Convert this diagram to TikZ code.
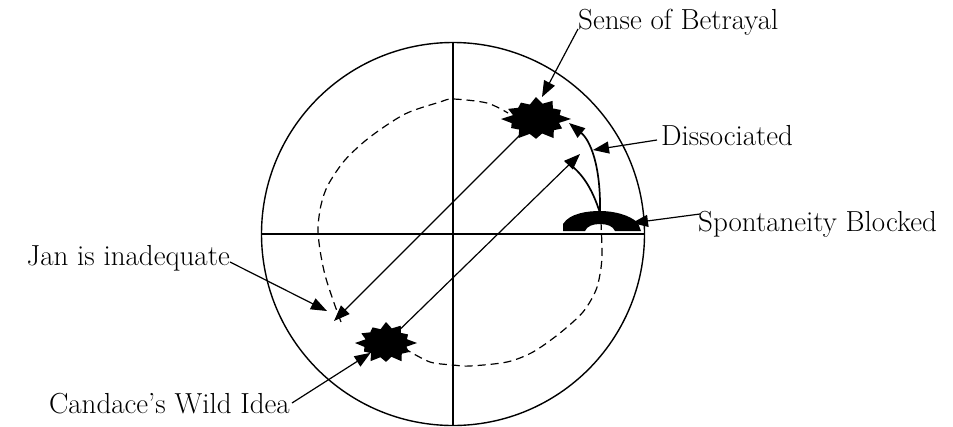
\documentclass[tikz,border=0pt]{standalone}
\usepackage{tikz}
\usetikzlibrary{shapes.geometric,arrows.meta}

% explosion: name, centre, x radius, y radius
\newcommand{\burst}[4]{%
  \node[ellipse,inner sep=0pt,minimum width=1.4*#3,minimum height=1.3*#4] (#1) at #2 {};
  \fill[shift={#2}] (0:#3 and #4)
    \foreach \k/\f in {1/.7,2/.82,3/.68,4/.95,5/.72,6/1.0,7/.68,8/.86,9/.72,10/.92,
      11/.68,12/1.0,13/.72,14/.82,15/.68,16/1.0,17/.7,18/.9,19/.68,20/1.0,21/.72,
      22/.86,23/.68}
    { -- (\k*15:{\f*#3} and {\f*#4}) } -- cycle;
}

\begin{document}
\begin{tikzpicture}[x=1pt,y=-1pt,
    note/.style={inner sep=0pt,font=\fontsize{29}{34}\selectfont},
    pointer/.style={line width=1.2pt,-{Triangle[length=16pt,width=12pt]}},
    track/.style={line width=1.2pt,dash pattern=on 8pt off 5pt}]
  \useasboundingbox (0,0) rectangle (953,426);
  % Circle and axes
  \node[circle,draw,line width=1.4pt,minimum size=383pt,inner sep=0pt] (wheel) at (453,234) {};
  \draw[line width=1.3pt] (wheel.west) -- (wheel.east);
  \draw[line width=1.3pt] (wheel.north) -- (wheel.south);
  % Dashed track
  \draw[track] plot[smooth] coordinates {(341,322) (333,300) (325,275) (320,250)
    (318,228) (321,205) (328,185) (345,160) (370,137) (405,114) (440,102) (453,99)
    (487,103) (508,113)};
  \draw[track] plot[smooth] coordinates {(601,222) (602,250) (601,268) (596,290)
    (583,312) (560,333) (533,352) (507,362) (470,366) (453,365) (430,362) (407,350)};
  % Stars
  \burst{betray}{(536,119)}{35pt}{22pt}
  \burst{wild}{(386,343)}{31pt}{21pt}
  % Blocked phone
  \fill (563,231) -- (563,224) .. controls (570,213) and (588,211) .. (600,211)
    .. controls (614,211) and (630,215) .. (638,223) -- (641,231) -- (615,231)
    .. controls (613,226) and (607,224) .. (600,224)
    .. controls (593,224) and (587,226) .. (585,231) -- cycle;
  \coordinate (phone) at (600,213);
  \coordinate (phoneR) at (632,223);
  % Points
  \coordinate (inadq) at (334,321);
  \coordinate (inadqtip) at (327,311);
  \coordinate (dissocpt) at (580,154);
  \coordinate (dissoctip) at (593,150);
  \coordinate (betraytip) at (542,97);
  \coordinate (betrayR) at (569,123);
  \coordinate (splitend) at (565,161);
  % Labels
  \node[note,anchor=base west] (betrayal) at (578,29) {Sense of Betrayal};
  \node[note,anchor=base west] (dissoc) at (661,145) {Dissociated};
  \node[note,anchor=base west] (spont) at (698,231) {Spontaneity Blocked};
  \node[note,anchor=base east] (jan) at (230,265) {Jan is inadequate};
  \node[note,anchor=base east] (candace) at (290,413) {Candace's Wild Idea};
  % Arrows
  \draw[pointer] (betrayal.base west) -- (betraytip);
  \draw[pointer] ([xshift=-4pt,yshift=5pt]dissoc.base west) -- (dissoctip);
  \draw[pointer] ([xshift=2pt,yshift=17pt]spont.base west) -- (phoneR);
  \draw[pointer] ([yshift=3pt]jan.base east) -- (inadqtip);
  \draw[pointer] ([xshift=2pt,yshift=10pt]candace.base east) -- (wild);
  \draw[pointer] (betray) -- (inadq);
  \draw[pointer] (wild) -- (dissocpt);
  \draw[pointer,line width=1.7pt] (phone) .. controls (601,165) and (590,140) .. (betrayR);
  \draw[line width=1.7pt] (phone) .. controls (592,188) and (582,172) .. (splitend);
\end{tikzpicture}
\end{document}
